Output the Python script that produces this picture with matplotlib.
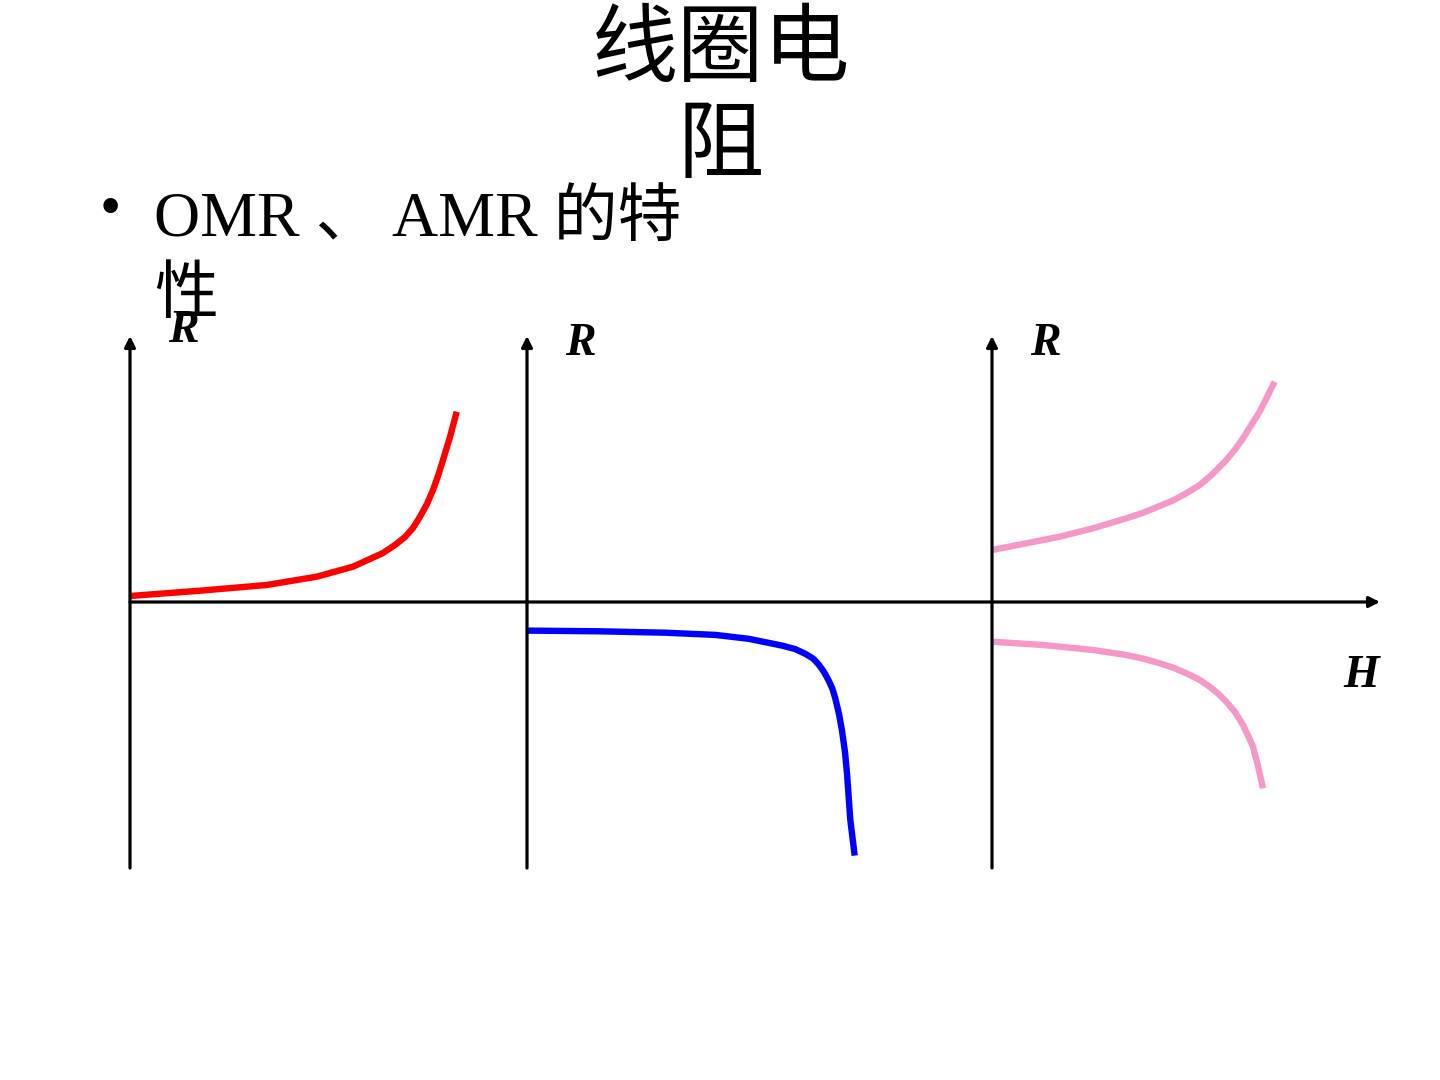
import matplotlib
matplotlib.use("Agg")
import matplotlib.pyplot as plt

# ---- data (H, R; units = pixels from each panel origin) ----
panel_origins = [130, 527, 992]          # H position of each R axis along the shared H axis

omr_H = [0, 70, 136.7, 186.7, 223, 253, 265, 275, 283, 290, 297, 303, 308, 313, 320, 326.7]
omr_R = [6, 11.3, 17, 25.3, 35.3, 49, 57, 65, 74, 85.3, 98, 112, 126, 142, 165, 190.3]

gmr_H = [0, 71.7, 138.3, 188.3, 221.7, 255, 268, 278.3, 286, 291.7, 297, 301.7, 305.5, 308.3,
         312, 315, 318, 320, 323.3, 327.7]
gmr_R = [-28.6, -29.3, -30.7, -32.9, -36.8, -43.6, -47, -51.8, -56.5, -62.5, -70, -78.6, -87,
         -96.4, -112, -128.6, -150, -171.4, -217.8, -253.6]

amr_up_H = [0, 34.3, 67.7, 101, 134.3, 152, 167.7, 182, 194.3, 207, 217.7, 226, 234.3, 243,
            251, 259, 267.7, 275, 282.7]
amr_up_R = [52, 58.7, 65.3, 73.7, 83.7, 89.5, 96, 102, 108.7, 116.5, 125.3, 133.5, 142, 152.5,
            163.7, 176.5, 190.3, 205, 220.3]

amr_dn_H = [0, 51, 101, 134.3, 152, 167.7, 182, 194.3, 207, 217.7, 226, 234.3, 243, 251, 256,
            261, 266, 271]
amr_dn_R = [-39.7, -43, -48, -53, -56.8, -61.3, -66, -71.3, -77.5, -84.7, -91.5, -99.7, -110,
            -123, -133.5, -144.7, -164, -186.3]

title_text = "线圈电\n阻"
bullet_text = "OMR 、 AMR 的特\n性"
axis_R_label = "R"
axis_H_label = "H"

# ---- figure ----
fig = plt.figure(figsize=(14.4, 10.8), dpi=100)
ax = fig.add_axes([0, 0, 1, 1])
ax.set_xlim(0, 1440)
ax.set_ylim(602 - 1080, 602)
ax.axis("off")

serif = ["Liberation Serif", "Noto Sans CJK SC", "DejaVu Sans"]

# axes lines
arrow_kw = dict(arrowstyle="-|>", lw=2.3, color="black", mutation_scale=16,
                shrinkA=0, shrinkB=0)
ax.annotate("", xy=(1380, 0), xytext=(130, 0), arrowprops=arrow_kw)
for x0 in panel_origins:
    ax.annotate("", xy=(x0, 602 - 336), xytext=(x0, 602 - 868), arrowprops=arrow_kw)

# curves
lw = 4.6
style = dict(lw=lw, solid_capstyle="butt", solid_joinstyle="round")
ax.plot([panel_origins[0] + h for h in omr_H], omr_R, color="#FF0000", **style)
ax.plot([panel_origins[1] + h for h in gmr_H], gmr_R, color="#0000FF", **style)
ax.plot([panel_origins[2] + h for h in amr_up_H], amr_up_R, color="#F598C8", **style)
ax.plot([panel_origins[2] + h for h in amr_dn_H], amr_dn_R, color="#F598C8", **style)

# axis labels
lab_kw = dict(family=["Liberation Serif"], fontsize=33, fontweight="bold",
              style="italic", ha="center", va="center")
ax.text(183, 602 - 331, axis_R_label, **lab_kw)
ax.text(580, 602 - 344, axis_R_label, **lab_kw)
ax.text(1045, 602 - 344, axis_R_label, **lab_kw)
ax.text(1361, 602 - 676, axis_H_label, **lab_kw)

# title
ax.text(721, 602 - 6, title_text, family=["Noto Sans CJK SC", "DejaVu Sans"],
        fontsize=62, ha="center", va="top", linespacing=1.12, color="black")

# bullet
ax.text(110, 602 - 211, "•", family=["Liberation Serif"], fontsize=44,
        ha="center", va="center")
ax.text(154, 602 - 191, bullet_text, family=serif, fontsize=46,
        ha="left", va="top", linespacing=1.4)

fig.savefig("out.png", dpi=100, facecolor="white")
